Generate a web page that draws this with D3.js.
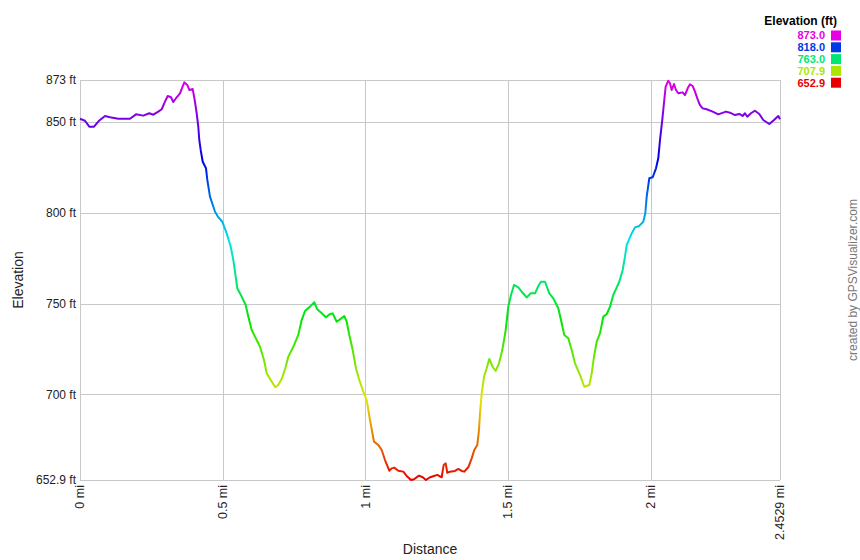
<!DOCTYPE html>
<html>
<head>
<meta charset="utf-8">
<script src="https://cdn.jsdelivr.net/npm/d3@7"></script>
<style>
  html, body { margin: 0; padding: 0; background: #fff; }
  svg { display: block; font-family: "Liberation Sans", Arial, sans-serif; }
</style>
</head>
<body>
<svg id="chart" width="860" height="560"></svg>
<script>
// ---- data ----
const distanceMi = [
  0, 0.0175, 0.0326, 0.0491, 0.0655, 0.0876, 0.1051, 0.1342, 0.1752, 0.1962,
  0.2218, 0.2428, 0.2568, 0.2744, 0.2863, 0.2978, 0.3073, 0.3189, 0.3269, 0.3388,
  0.3504, 0.3585, 0.3655, 0.3760, 0.3830, 0.3949, 0.4019, 0.4089, 0.4145, 0.4180,
  0.4229, 0.4300, 0.4415, 0.4461, 0.4555, 0.4731, 0.4846, 0.4986, 0.5141, 0.5281,
  0.5372, 0.5456, 0.5512, 0.5666, 0.5806, 0.5897, 0.6017, 0.6192, 0.6307, 0.6448,
  0.6542, 0.6682, 0.6843, 0.6949, 0.7078, 0.7194, 0.7299, 0.7474, 0.7649, 0.7768,
  0.7884, 0.8059, 0.8210, 0.8315, 0.8470, 0.8620, 0.8760, 0.8855, 0.8995, 0.9111,
  0.9261, 0.9346, 0.9437, 0.9556, 0.9671, 0.9787, 0.9927, 1.0046, 1.0162, 1.0302,
  1.0453, 1.0572, 1.0688, 1.0838, 1.0922, 1.1013, 1.1153, 1.1329, 1.1448, 1.1599,
  1.1704, 1.1879, 1.2008, 1.2124, 1.2264, 1.2405, 1.2520, 1.2674, 1.2744, 1.2814,
  1.2870, 1.2965, 1.3140, 1.3256, 1.3375, 1.3466, 1.3606, 1.3725, 1.3816, 1.3922,
  1.3981, 1.4016, 1.4076, 1.4157, 1.4251, 1.4342, 1.4461, 1.4566, 1.4682, 1.4798,
  1.4917, 1.5008, 1.5103, 1.5208, 1.5359, 1.5478, 1.5653, 1.5793, 1.5944, 1.6059,
  1.6154, 1.6294, 1.6445, 1.6585, 1.6760, 1.6855, 1.6970, 1.7110, 1.7230, 1.7345,
  1.7521, 1.7671, 1.7847, 1.7931, 1.8011, 1.8106, 1.8221, 1.8337, 1.8456, 1.8572,
  1.8687, 1.8807, 1.8898, 1.9017, 1.9097, 1.9157, 1.9332, 1.9448, 1.9598, 1.9738,
  1.9809, 1.9858, 1.9949, 2.0068, 2.0184, 2.0264, 2.0324, 2.0404, 2.0474, 2.0523,
  2.0614, 2.0674, 2.0734, 2.0814, 2.0884, 2.0965, 2.1119, 2.1199, 2.1294, 2.1375,
  2.1469, 2.1550, 2.1631, 2.1725, 2.1820, 2.1960, 2.2170, 2.2366, 2.2636, 2.2776,
  2.2952, 2.3102, 2.3221, 2.3302, 2.3383, 2.3512, 2.3653, 2.3803, 2.3943, 2.4154,
  2.4319, 2.4469, 2.4529
];
const elevationFt = [
  851.7, 850.6, 847.3, 847.3, 850.4, 853.2, 852.5, 851.7, 851.7, 854.1,
  853.4, 854.7, 853.9, 855.6, 856.9, 861.1, 864.2, 863.5, 860.9, 863.5,
  865.7, 869.0, 871.7, 870.3, 867.5, 868.0, 862.0, 854.7, 847.3, 840.0,
  834.5, 828.0, 824.4, 818.0, 808.8, 800.5, 797.5, 795.0, 788.6, 781.3,
  774.0, 764.8, 758.4, 753.8, 749.2, 742.8, 735.4, 729.9, 726.2, 718.9,
  711.6, 707.9, 703.9, 705.2, 708.9, 714.4, 720.7, 726.2, 732.7, 740.9,
  745.9, 748.3, 750.7, 746.8, 744.6, 742.4, 744.2, 744.6, 740.0, 741.3,
  743.1, 740.0, 732.7, 724.4, 714.4, 707.9, 701.5, 696.9, 685.9, 674.0,
  672.2, 669.4, 663.9, 658.0, 659.3, 659.7, 658.0, 657.5, 655.1, 652.9,
  653.3, 655.3, 654.4, 652.9, 654.4, 655.1, 655.7, 654.4, 661.2, 662.1,
  656.9, 657.5, 657.9, 659.0, 657.9, 657.5, 659.9, 664.8, 669.4, 672.2,
  680.4, 689.6, 700.6, 709.7, 714.4, 719.5, 715.2, 712.9, 717.1, 724.4,
  735.4, 748.3, 754.7, 760.2, 758.9, 756.5, 753.4, 755.6, 755.6, 759.6,
  762.0, 762.0, 755.6, 752.9, 747.4, 740.9, 732.7, 730.9, 724.4, 717.1,
  710.7, 704.2, 705.2, 711.6, 720.7, 729.0, 733.6, 742.8, 744.1, 748.3,
  754.7, 758.9, 762.0, 768.5, 775.8, 782.2, 788.6, 791.9, 792.7, 795.0,
  799.7, 808.8, 818.9, 819.5, 824.4, 829.9, 840.0, 851.0, 862.0, 869.3,
  872.6, 871.2, 867.5, 870.8, 867.5, 865.7, 866.2, 864.7, 868.4, 870.6,
  869.7, 866.6, 862.9, 859.2, 857.4, 856.9, 855.6, 854.1, 855.6, 855.0,
  853.7, 854.3, 853.2, 854.7, 852.8, 854.7, 856.1, 854.3, 851.0, 848.8,
  851.0, 853.2, 851.4
];
const yTickValues = [652.9, 700, 750, 800, 850, 873];
const yTickLabels = ["652.9 ft", "700 ft", "750 ft", "800 ft", "850 ft", "873 ft"];
const xTickValues = [0, 0.5, 1, 1.5, 2, 2.4529];
const xTickLabels = ["0 mi", "0.5 mi", "1 mi", "1.5 mi", "2 mi", "2.4529 mi"];
const legendTitle = "Elevation (ft)";
const legendValues = [873.0, 818.0, 763.0, 707.9, 652.9];
const minElev = 652.9, maxElev = 873.0, maxDist = 2.4529;

// ---- layout ----
const svg = d3.select("#chart");
const plotL = 80, plotR = 780, plotT = 80, plotB = 480;

const x = d3.scaleLinear().domain([0, maxDist]).range([plotL, plotR]);
const y = d3.scaleLinear().domain([minElev, maxElev]).range([plotB, plotT]);
// colour: hue from red (0) at min to magenta (300) at max
const colorOf = v => d3.hsl((v - minElev) / (maxElev - minElev) * 300, 1, 0.45).formatHex();

// gridlines
const grid = svg.append("g").attr("shape-rendering", "crispEdges");
grid.selectAll("line.h").data(yTickValues).join("line")
  .attr("x1", plotL).attr("x2", plotR)
  .attr("y1", d => Math.round(y(d)) + 0.5).attr("y2", d => Math.round(y(d)) + 0.5)
  .attr("stroke", "#c8c8c8").attr("stroke-width", 1);
grid.selectAll("line.v").data(xTickValues).join("line")
  .attr("y1", plotT).attr("y2", plotB)
  .attr("x1", d => Math.round(x(d)) + 0.5).attr("x2", d => Math.round(x(d)) + 0.5)
  .attr("stroke", "#c8c8c8").attr("stroke-width", 1);

// y tick labels
svg.append("g").selectAll("text").data(yTickValues).join("text")
  .attr("x", plotL - 4).attr("y", d => y(d))
  .attr("dy", "0.35em").attr("text-anchor", "end")
  .attr("font-size", 12).attr("fill", "#222")
  .text((d, i) => yTickLabels[i]);

// x tick labels (rotated)
svg.append("g").selectAll("text").data(xTickValues).join("text")
  .attr("transform", d => `translate(${x(d)},${plotB + 5}) rotate(-90)`)
  .attr("dy", "0.35em").attr("text-anchor", "end")
  .attr("font-size", 12.5).attr("fill", "#222")
  .text((d, i) => xTickLabels[i]);

// axis titles
svg.append("text").attr("x", (plotL + plotR) / 2).attr("y", 554)
  .attr("text-anchor", "middle").attr("font-size", 14).attr("fill", "#222")
  .text("Distance");
svg.append("text").attr("transform", `translate(23,${(plotT + plotB) / 2}) rotate(-90)`)
  .attr("text-anchor", "middle").attr("font-size", 14).attr("fill", "#222")
  .text("Elevation");

// watermark
svg.append("text").attr("transform", `translate(857,280) rotate(-90)`)
  .attr("text-anchor", "middle").attr("font-size", 12).attr("fill", "#777")
  .text("created by GPSVisualizer.com");

// gradient for elevation line
const defs = svg.append("defs");
const grad = defs.append("linearGradient").attr("id", "elevGrad")
  .attr("gradientUnits", "userSpaceOnUse")
  .attr("x1", 0).attr("x2", 0).attr("y1", y(minElev)).attr("y2", y(maxElev));
d3.range(0, 21).forEach(i => {
  const v = minElev + (maxElev - minElev) * i / 20;
  grad.append("stop").attr("offset", (i / 20)).attr("stop-color", colorOf(v));
});

const pts = distanceMi.map((d, i) => [d, elevationFt[i]]);
const line = d3.line().x(d => x(d[0])).y(d => y(d[1]));
svg.append("path").datum(pts)
  .attr("d", line).attr("fill", "none")
  .attr("stroke", "url(#elevGrad)").attr("stroke-width", 2)
  .attr("stroke-linejoin", "round");

// legend
const lg = svg.append("g");
const rowStep = 11.8, row0 = 35.5;
lg.append("text").attr("x", 837).attr("y", 25).attr("text-anchor", "end")
  .attr("font-size", 12).attr("font-weight", "bold").attr("fill", "#000")
  .text(legendTitle);
const rows = lg.selectAll("g.row").data(legendValues).join("g")
  .attr("transform", (d, i) => `translate(0,${row0 + i * rowStep})`);
rows.append("text").attr("x", 825).attr("y", 0).attr("dy", "0.36em")
  .attr("text-anchor", "end").attr("font-size", 11).attr("font-weight", "bold")
  .attr("fill", d => colorOf(d)).text(d => d.toFixed(1));
rows.append("rect").attr("x", 831).attr("y", -5).attr("width", 10).attr("height", 10)
  .attr("fill", d => colorOf(d));
</script>
</body>
</html>
